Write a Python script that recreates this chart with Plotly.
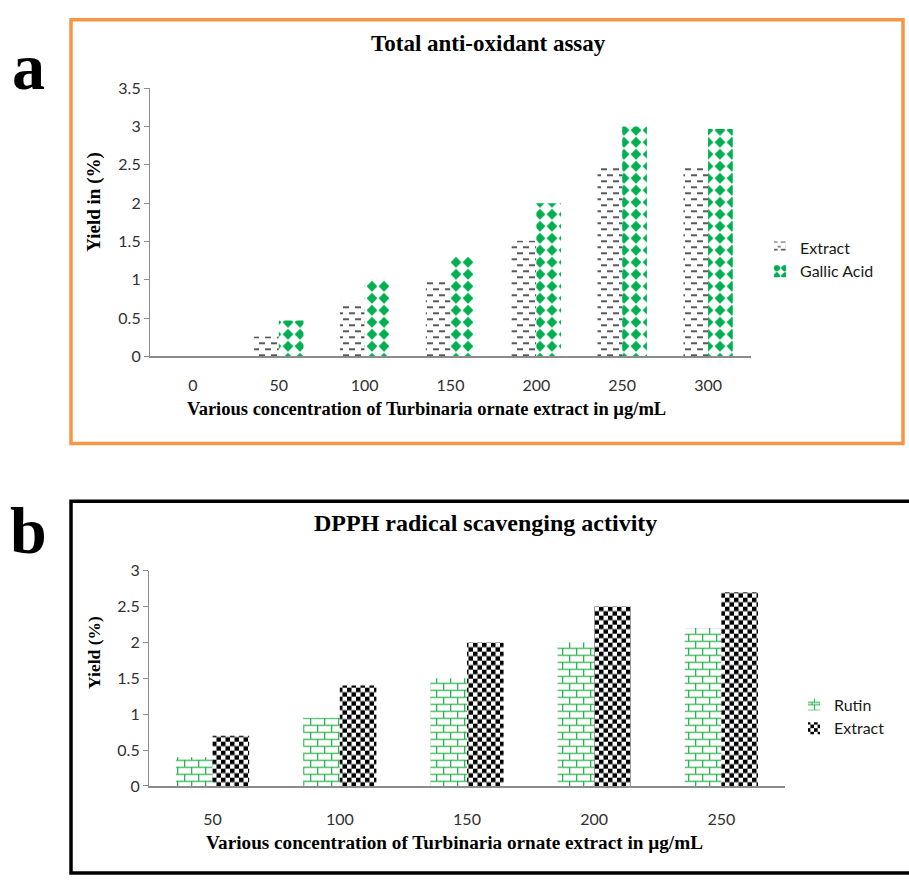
import plotly.graph_objects as go
from plotly.graph_objs.bar.marker import Pattern

# ---------------- data ----------------
conc_a = ["0", "50", "100", "150", "200", "250", "300"]
extract_a = [0, 0.26, 0.70, 1.0, 1.51, 2.47, 2.47]
gallic_a = [0, 0.47, 1.0, 1.30, 2.0, 3.0, 2.97]

conc_b = ["50", "100", "150", "200", "250"]
rutin_b = [0.40, 0.95, 1.5, 2.0, 2.2]
extract_b = [0.70, 1.4, 2.0, 2.5, 2.7]

title_a = "Total anti-oxidant assay"
title_b = "DPPH radical scavenging activity"
xtitle = "Various concentration of Turbinaria ornate extract in µg/mL"
ytitle_a = "Yield in (%)"
ytitle_b = "Yield (%)"

W, H = 909, 884
GREEN = "#00B050"
BRICK = "#2DB452"

try:
    Pattern(path="M0,0H1V1H0Z")
    HAS_PATH = True
except Exception:
    HAS_PATH = False


def pat(path, fallback, size, fg, bg="white", solidity=0.3):
    if HAS_PATH:
        return dict(path=path, size=size, fgcolor=fg, bgcolor=bg, fillmode="replace")
    return dict(shape=fallback, size=size, fgcolor=fg, bgcolor=bg, solidity=solidity, fillmode="replace")


dash_path = "M1,2.3H7V3.8H1Z M7,8.3H12V9.8H7Z M0,8.3H1V9.8H0Z"
diamond_path = "M6,0.6L11.4,6L6,11.4L0.6,6Z"
checker_path = "M0,0H4.5V4.5H0Z M4.5,4.5H9V9H4.5Z"
brick_path = "M0,0H14V1.3H0Z M0,7H14V8.3H0Z M0,0H1.3V7H0Z M7,7H8.3V14H7Z"

fig = go.Figure()

fig.add_trace(go.Bar(
    x=conc_a, y=extract_a, name="Extract", xaxis="x", yaxis="y",
    legend="legend", legendgroup="a1",
    marker=dict(color="white", line=dict(width=0),
                pattern=pat(dash_path, "-", 12, "#222222", solidity=0.15)),
))
gal_pat = pat(diamond_path, "x", 12, GREEN) if HAS_PATH else dict(
    shape="x", size=12, fgcolor="white", bgcolor=GREEN, solidity=0.45, fillmode="replace")
fig.add_trace(go.Bar(
    x=conc_a, y=gallic_a, name="Gallic Acid", xaxis="x", yaxis="y",
    legend="legend", legendgroup="a2",
    marker=dict(color="white", line=dict(width=0), pattern=gal_pat),
))
fig.add_trace(go.Bar(
    x=conc_b, y=rutin_b, name="Rutin", xaxis="x2", yaxis="y2",
    legend="legend2", legendgroup="b1",
    marker=dict(color="white", line=dict(width=0),
                pattern=pat(brick_path, "+", 14, BRICK, solidity=0.12)),
))
fig.add_trace(go.Bar(
    x=conc_b, y=extract_b, name="Extract", xaxis="x2", yaxis="y2",
    legend="legend2", legendgroup="b2",
    marker=dict(color="white", line=dict(width=0),
                pattern=pat(checker_path, ".", 9, "#000000", solidity=0.5)),
))


def px_x(v):
    return v / W


def px_y(v):
    return 1 - v / H


tick_font = dict(family="Lato, Liberation Sans, sans-serif", size=16, color="#303030")
axis_col = "#8C8C8C"

yax = dict(showline=True, linecolor=axis_col, linewidth=1.2, ticks="outside", ticklen=5,
           tickcolor=axis_col, showgrid=False, zeroline=False, dtick=0.5,
           tickfont=tick_font, fixedrange=True)
xax = dict(showline=True, linecolor=axis_col, linewidth=1.5, ticks="", showgrid=False,
           zeroline=False, tickfont=tick_font, type="category", fixedrange=True)

legend_font = dict(family="Lato, Liberation Sans, sans-serif", size=16, color="#1a1a1a")

fig.update_layout(
    width=W, height=H,
    margin=dict(l=0, r=0, t=0, b=0),
    paper_bgcolor="white", plot_bgcolor="white",
    barmode="group", bargap=0.425, bargroupgap=0,
    xaxis=dict(xax, domain=[px_x(150), px_x(751)], anchor="y", ticklabelstandoff=14),
    yaxis=dict(yax, domain=[px_y(354), px_y(80)], anchor="x", range=[0, 3.5]),
    xaxis2=dict(xax, domain=[px_x(149), px_x(785)], anchor="y2", ticklabelstandoff=18),
    yaxis2=dict(yax, domain=[px_y(793), px_y(573)], anchor="x2", range=[0, 3]),
    legend=dict(x=px_x(760), y=px_y(255), xanchor="left", yanchor="middle",
                font=legend_font, bgcolor="rgba(0,0,0,0)", tracegroupgap=12, traceorder="normal"),
    legend2=dict(x=px_x(794), y=px_y(722), xanchor="left", yanchor="middle",
                 font=legend_font, bgcolor="rgba(0,0,0,0)", tracegroupgap=12, traceorder="normal"),
    showlegend=True,
)

# frames
fig.add_shape(type="rect", xref="paper", yref="paper",
              x0=px_x(71), x1=px_x(903), y0=px_y(443), y1=px_y(10),
              line=dict(color="#F79646", width=3.5), fillcolor="rgba(0,0,0,0)", layer="above")
fig.add_shape(type="rect", xref="paper", yref="paper",
              x0=px_x(71), x1=px_x(915), y0=px_y(882), y1=px_y(502),
              line=dict(color="#000000", width=3.5), fillcolor="rgba(0,0,0,0)", layer="above")

serif_b = "Liberation Serif, Times New Roman, serif"


def ann(text, x, y, size, angle=0):
    fig.add_annotation(text="<b>%s</b>" % text, xref="paper", yref="paper",
                       x=px_x(x), y=px_y(y), xanchor="center", yanchor="middle",
                       showarrow=False, textangle=angle,
                       font=dict(family=serif_b, size=size, color="#000000"))


ann("a", 28, 58, 66)
ann("b", 28, 532, 66)
ann(title_a, 488, 34, 23)
ann(title_b, 485, 524, 24)
ann(xtitle, 426, 408, 18.5)
ann(xtitle, 454, 851, 19.2)
ann(ytitle_a, 94, 196, 19, -90)
ann(ytitle_b, 94, 657, 17.5, -90)

post = (
    "document.documentElement.style.margin='0';"
    "document.body.style.margin='0';"
    "document.body.style.overflow='hidden';"
    "document.documentElement.style.overflow='hidden';"
    "var d=document.getElementById('{plot_id}');"
    "d.style.position='fixed';d.style.top='0px';d.style.left='0px';"
)

fig.write_html("out.html", config={"displayModeBar": False}, post_script=post)
